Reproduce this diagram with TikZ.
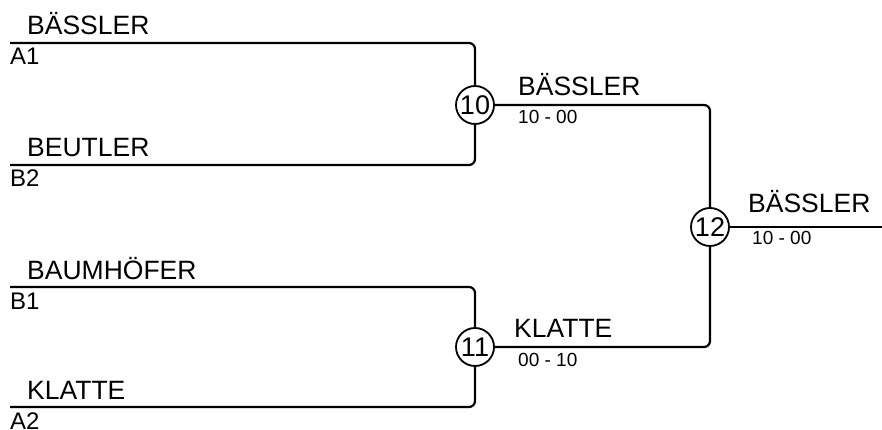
\documentclass[tikz,border=0pt]{standalone}
\usepackage{fontspec}
\setmainfont{Liberation Sans}
\begin{document}
\begin{tikzpicture}[x=1pt,y=-1pt,
    line/.style={line width=2.2pt, rounded corners=6pt},
    match/.style={circle, draw, line width=1.8pt, minimum size=38pt, inner sep=0pt, font=\fontsize{27}{27}\selectfont},
    player/.style={anchor=base west, inner sep=0pt, font=\fontsize{26.5}{30}\selectfont},
    slot/.style={anchor=base west, inner sep=0pt, font=\fontsize{24}{28}\selectfont},
    score/.style={anchor=base west, inner sep=0pt, font=\fontsize{19}{22}\selectfont}]
    \useasboundingbox (0,0) rectangle (882,430);

    % first round: slot, player, height of the line
    \foreach \slot/\name/\y in {A1/BÄSSLER/43, B2/BEUTLER/165, B1/BAUMHÖFER/287, A2/KLATTE/407} {
        \coordinate (\slot) at (10,\y);
        \node[player] (p\slot) at (27,\y-8) {\name};
        \node[slot] (l\slot) at (10,\y+22) {\slot};
    }
    \coordinate (out) at (882,227);

    \node[match] (m10) at (475,105) {10};
    \node[match] (m11) at (475,347) {11};
    \node[match] (m12) at (710,227) {12};

    \draw[line] (A1) -| (m10);
    \draw[line] (B2) -| (m10);
    \draw[line] (B1) -| (m11);
    \draw[line] (A2) -| (m11);
    \draw[line] (m10) -| (m12);
    \draw[line] (m11) -| (m12);
    \draw[line] (m12) -- (out);

    % winners and scores
    \node[player] (w10) at (518,96) {BÄSSLER};
    \node[score] (s10) at (518,124) {10 - 00};
    \node[player] (w11) at (514,337) {KLATTE};
    \node[score] (s11) at (518,366) {00 - 10};
    \node[player] (w12) at (748,212) {BÄSSLER};
    \node[score] (s12) at (752,244) {10 - 00};
\end{tikzpicture}
\end{document}
